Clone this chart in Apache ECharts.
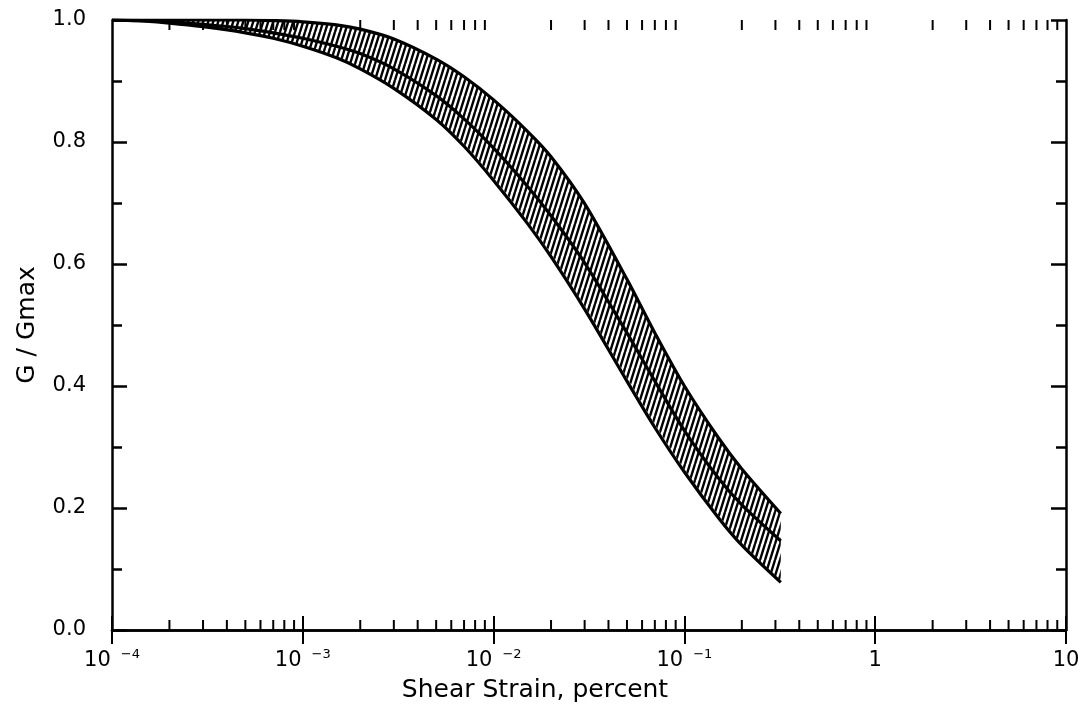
<!DOCTYPE html>
<html>
<head>
<meta charset="utf-8">
<script src="https://cdn.jsdelivr.net/npm/echarts@6/dist/echarts.min.js"></script>
<style>html,body{margin:0;padding:0;background:#fff}#c{width:1086px;height:725px}</style>
</head>
<body>
<div id="c"></div>
<script>
// ---- data ----
const strain = [1e-4, 1.5e-4, 2e-4, 3e-4, 5e-4, 7e-4, 1e-3, 1.5e-3, 2e-3, 3e-3, 5e-3, 7e-3,
                1e-2, 1.5e-2, 2e-2, 3e-2, 5e-2, 7e-2, 1e-1, 1.5e-1, 2e-1, 3.2e-1];
const upperG = [1.0, 1.0, 1.0, 1.0, 1.0, 0.999, 0.997, 0.992, 0.985, 0.969, 0.936, 0.907,
                0.869, 0.818, 0.776, 0.699, 0.575, 0.487, 0.400, 0.316, 0.264, 0.191];
const meanG  = [1.0, 0.999, 0.997, 0.993, 0.986, 0.979, 0.970, 0.957, 0.945, 0.920, 0.876, 0.838,
                0.790, 0.728, 0.679, 0.602, 0.487, 0.408, 0.327, 0.250, 0.205, 0.146];
const lowerG = [1.0, 0.998, 0.995, 0.989, 0.979, 0.970, 0.957, 0.938, 0.920, 0.888, 0.837, 0.793,
                0.737, 0.667, 0.612, 0.526, 0.408, 0.332, 0.259, 0.185, 0.139, 0.078];
const xTickLabels = ['10^-4', '10^-3', '10^-2', '10^-1', '1', '10'];
const yTickLabels = ['0.0', '0.2', '0.4', '0.6', '0.8', '1.0'];
const xDecades = [1e-4, 1e-3, 1e-2, 1e-1, 1];
const minorMultipliers = [2, 3, 4, 5, 6, 7, 8, 9];

const FONT = 'DejaVu Sans';
const xMinorTicks = [];
xDecades.forEach(d => minorMultipliers.forEach(m => xMinorTicks.push([d * m, 0])));

// hatch pattern
const pc = document.createElement('canvas');
pc.width = 5; pc.height = 16;
const pctx = pc.getContext('2d');
pctx.strokeStyle = '#000';
pctx.lineWidth = 2.4;
[-5, 0, 5].forEach(ox => { pctx.beginPath(); pctx.moveTo(ox, 16); pctx.lineTo(ox + 5, 0); pctx.stroke(); });

const pair = arr => strain.map((x, i) => [x, arr[i]]);

function xLabel(v) {
  const e = Math.round(Math.log10(v));
  const lab = xTickLabels[e + 4];
  if (lab === undefined) return '';
  if (lab.indexOf('^') < 0) return '{b|' + lab + '}';
  const parts = lab.split('^');
  return '{b|' + parts[0] + '}{s|' + parts[1].replace('-', '\u2212') + '}';
}

const chart = echarts.init(document.getElementById('c'), null, {renderer: 'canvas'});
const axisLine = {show: true, lineStyle: {color: '#000', width: 2.5}};
const lineCommon = {type: 'line', smooth: 0.3, symbol: 'none', xAxisIndex: 0, yAxisIndex: 0};

chart.setOption({
  animation: false,
  backgroundColor: '#fff',
  grid: {left: 112, right: 20, top: 20, bottom: 95, containLabel: false},
  xAxis: [{
    type: 'log', logBase: 10, min: 1e-4, max: 10, position: 'bottom', z: 10,
    axisLine: axisLine,
    axisTick: {inside: true, length: 14, lineStyle: {color: '#000', width: 2}},
    splitLine: {show: false},
    axisLabel: {
      margin: 18, color: '#000', formatter: xLabel,
      rich: {
        b: {fontFamily: FONT, fontSize: 21, color: '#000', lineHeight: 26},
        s: {fontFamily: FONT, fontSize: 13, color: '#000', verticalAlign: 'top', lineHeight: 26, padding: [0, 0, 12, 10]}
      }
    },
    name: 'Shear Strain, percent', nameLocation: 'middle', nameGap: 42,
    nameTextStyle: {fontFamily: FONT, fontSize: 25, color: '#000', padding: [0, 108, 0, 0]}
  }, {
    type: 'log', logBase: 10, min: 1e-4, max: 10, position: 'top', z: 10,
    axisLine: axisLine,
    axisTick: {inside: true, length: 14, lineStyle: {color: '#000', width: 2}},
    axisLabel: {show: false}, splitLine: {show: false}
  }],
  yAxis: [{
    type: 'value', min: 0, max: 1, interval: 0.2, position: 'left', z: 10,
    axisLine: axisLine,
    axisTick: {inside: true, length: 15, lineStyle: {color: '#000', width: 2.5}},
    minorTick: {show: true, splitNumber: 2, length: 10, lineStyle: {color: '#000', width: 2.5}},
    splitLine: {show: false}, minorSplitLine: {show: false},
    axisLabel: {margin: 26, fontFamily: FONT, fontSize: 21, color: '#000',
      formatter: v => yTickLabels[Math.round(v / 0.2)]},
    name: 'G / Gmax', nameLocation: 'middle', nameGap: 72, nameRotate: 90,
    nameTextStyle: {fontFamily: FONT, fontSize: 25, color: '#000'}
  }, {
    type: 'value', min: 0, max: 1, interval: 0.2, position: 'right', z: 10,
    axisLine: axisLine,
    axisTick: {inside: true, length: 15, lineStyle: {color: '#000', width: 2.5}},
    minorTick: {show: true, splitNumber: 2, length: 10, lineStyle: {color: '#000', width: 2.5}},
    splitLine: {show: false}, axisLabel: {show: false}
  }],
  series: [
    Object.assign({}, lineCommon, {name: 'upper', data: pair(upperG), z: 2,
      lineStyle: {color: '#000', width: 3.2},
      areaStyle: {color: {image: pc, repeat: 'repeat'}, opacity: 1, origin: 'start'}}),
    Object.assign({}, lineCommon, {name: 'lower', data: pair(lowerG), z: 3,
      lineStyle: {color: '#000', width: 3.2},
      areaStyle: {color: '#fff', opacity: 1, origin: 'start', shadowColor: '#fff', shadowBlur: 0, shadowOffsetX: 2}}),
    Object.assign({}, lineCommon, {name: 'mean', data: pair(meanG), z: 4,
      lineStyle: {color: '#000', width: 3.2}}),
    {
      type: 'custom', name: 'minorTicks', data: xMinorTicks, clip: false, z: 11, silent: true,
      renderItem: function (params, api) {
        const x = api.value(0);
        const pb = api.coord([x, 0]);
        const pt = api.coord([x, 1]);
        return {type: 'group', children: [
          {type: 'line', shape: {x1: pb[0], y1: pb[1], x2: pb[0], y2: pb[1] - 10}, style: {stroke: '#000', lineWidth: 2}},
          {type: 'line', shape: {x1: pt[0], y1: pt[1], x2: pt[0], y2: pt[1] + 10}, style: {stroke: '#000', lineWidth: 2}}
        ]};
      }
    }
  ]
});
</script>
</body>
</html>
